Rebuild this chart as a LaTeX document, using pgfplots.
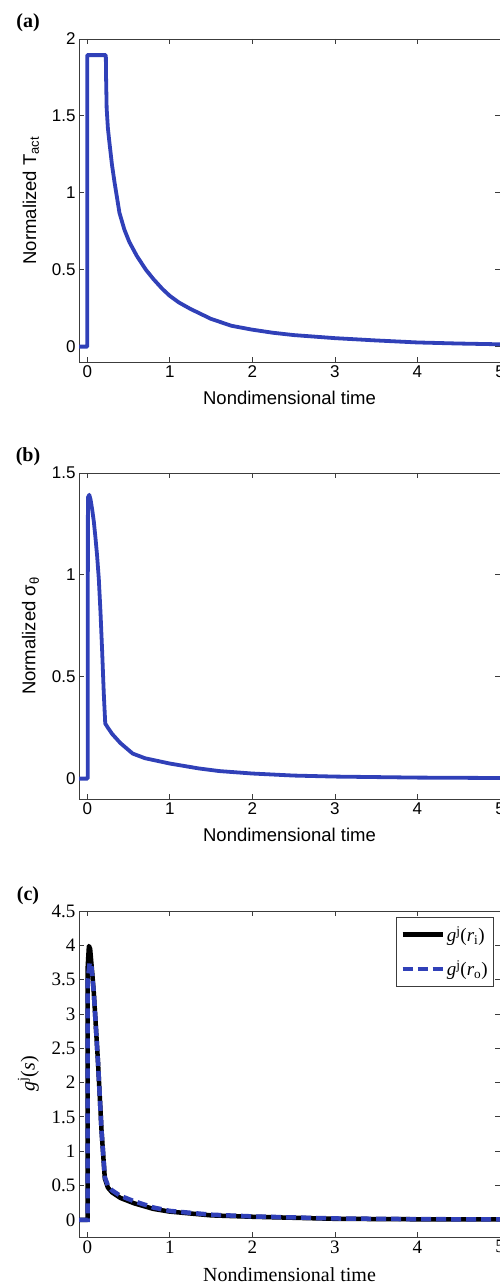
\documentclass[border=0pt]{standalone}
\usepackage{fontspec}
\setmainfont{Liberation Serif}
\setsansfont{Liberation Sans}
\usepackage{pgfplots}
\pgfplotsset{compat=1.18}
\definecolor{mblue}{RGB}{48,64,184}
\definecolor{axgray}{RGB}{60,60,60}
\pgfplotsset{
  myax/.style={
    scale only axis, width=421pt, anchor=south west,
    xmin=-0.1, xmax=5, xtick={0,1,2,3,4,5},
    tick align=inside, major tick length=5pt,
    axis line style={axgray, line width=0.8pt},
    every tick/.style={axgray, line width=0.8pt},
    /pgf/number format/assume math mode=true,
    xlabel={Nondimensional time},
    xlabel shift=7pt, ylabel shift=6pt,
  },
  sansax/.style={
    ticklabel style={font=\sffamily\fontsize{17}{20}\selectfont},
    label style={font=\sffamily\fontsize{18.5}{22}\selectfont},
  },
  serifax/.style={
    ticklabel style={font=\rmfamily\fontsize{19}{22}\selectfont},
    label style={font=\rmfamily\fontsize{20}{24}\selectfont},
  },
}
\begin{document}
\begin{tikzpicture}
\path[use as bounding box] (0pt,0pt) rectangle (500pt,1288pt);
% (a)
\begin{axis}[myax, sansax, at={(79pt,926pt)}, height=323pt,
  ymin=-0.1, ymax=2, ytick={0,0.5,1,1.5,2},
  ylabel={Normalized T\textsubscript{act}}]
\addplot[mblue, line width=3.8pt, line join=round] coordinates {
(-0.1,0) (0.0,0) (0.0,1.895) (0.225,1.895) (0.228,1.75) (0.235,1.55) (0.25,1.42)
(0.27,1.32) (0.3,1.18) (0.33,1.07) (0.39,0.87) (0.45,0.76) (0.51,0.68) (0.6,0.59)
(0.71,0.5) (0.8,0.44) (0.91,0.375) (1.0,0.33) (1.11,0.287) (1.25,0.245) (1.5,0.18)
(1.75,0.135) (2.0,0.11) (2.25,0.09) (2.5,0.075) (2.75,0.065) (3.0,0.055) (3.5,0.04)
(4.0,0.027) (4.5,0.02) (5.0,0.015)};
\end{axis}
% (b)
\begin{axis}[myax, sansax, at={(79pt,489pt)}, height=326pt,
  ymin=-0.1, ymax=1.5, ytick={0,0.5,1,1.5},
  ylabel={Normalized σ\textsubscript{θ}}]
\addplot[mblue, line width=3.8pt, line join=round] coordinates {
(-0.1,0) (0.005,0) (0.008,1.38) (0.024,1.393) (0.04,1.37) (0.06,1.32) (0.08,1.26)
(0.1,1.18) (0.12,1.09) (0.14,0.98) (0.16,0.82) (0.18,0.63) (0.2,0.42) (0.218,0.27)
(0.25,0.25) (0.3,0.22) (0.4,0.175) (0.55,0.123) (0.7,0.1) (1.0,0.074) (1.35,0.05)
(1.6,0.037) (2.0,0.025) (2.5,0.015) (3.0,0.01) (4.0,0.005) (5.0,0.003)};
\end{axis}
% (c)
\begin{axis}[myax, serifax, at={(79pt,51pt)}, height=326pt,
  ymin=-0.25, ymax=4.5, ytick={0,0.5,1,1.5,2,2.5,3,3.5,4,4.5},
  ylabel={\textit{g}\textsuperscript{j}(\textit{s})},
  legend style={at={(0.986,0.982)}, anchor=north east, draw=axgray,
    line width=0.8pt, fill=white, font=\rmfamily\fontsize{19}{22}\selectfont,
    row sep=14pt, inner xsep=4pt, inner ysep=7pt},
  legend cell align=left,
  legend image code/.code={\draw[#1] (0pt,0pt) -- (40pt,0pt);}]
\addplot[black, line width=4.5pt, line join=round] coordinates {
(-0.1,0) (0.003,0) (0.006,3.7) (0.02,3.99) (0.035,3.95) (0.06,3.6) (0.08,3.3)
(0.13,2.3) (0.173,1.3) (0.213,0.6) (0.25,0.47) (0.3,0.4) (0.4,0.32) (0.57,0.24)
(0.8,0.16) (1.0,0.12) (1.5,0.065) (2.0,0.045) (2.5,0.03) (3.0,0.015) (4.0,0.008)
(5.0,0.005)};
\addlegendentry{\textit{g}\textsuperscript{j}(\textit{r}\textsubscript{i})}
\addplot[mblue, line width=4.5pt, dash pattern=on 10pt off 5pt] coordinates {
(-0.1,0) (0.003,0) (0.006,3.5) (0.03,3.75) (0.05,3.7) (0.08,3.3) (0.13,2.3)
(0.173,1.3) (0.213,0.62) (0.25,0.5) (0.3,0.43) (0.4,0.35) (0.57,0.27) (0.8,0.18)
(1.0,0.13) (1.5,0.075) (2.0,0.05) (2.5,0.035) (3.0,0.02) (4.0,0.01) (5.0,0.006)};
\addlegendentry{\textit{g}\textsuperscript{j}(\textit{r}\textsubscript{o})}
\end{axis}
\node[font=\rmfamily\bfseries\fontsize{20}{24}\selectfont] at (28pt,1265pt) {(a)};
\node[font=\rmfamily\bfseries\fontsize{20}{24}\selectfont] at (28pt,831pt) {(b)};
\node[font=\rmfamily\bfseries\fontsize{20}{24}\selectfont] at (28pt,392pt) {(c)};
\end{tikzpicture}
\end{document}
